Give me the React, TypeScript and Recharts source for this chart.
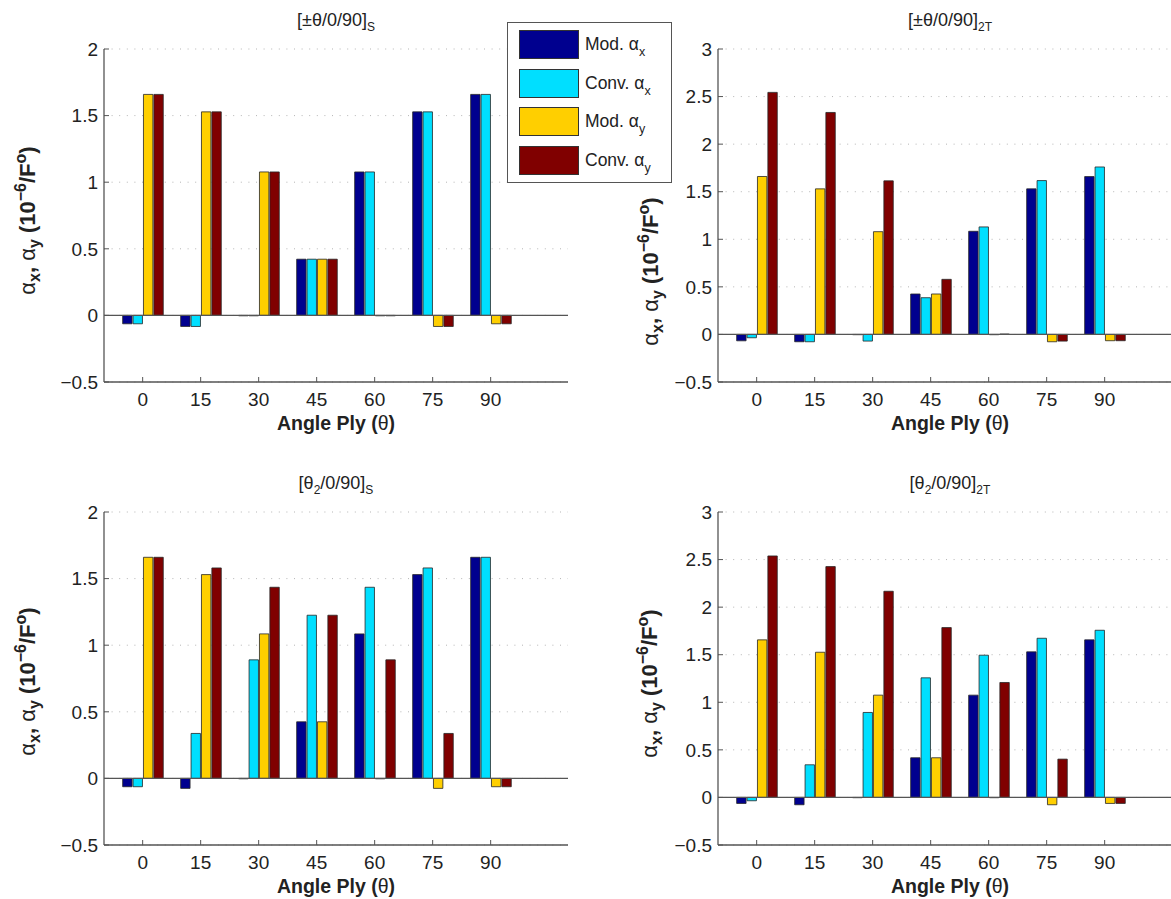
import React from 'react'
import { BarChart, Bar, XAxis, YAxis, CartesianGrid, ReferenceLine, Legend, Customized } from 'recharts'

const FONT = '"Liberation Sans", Arial, Helvetica, sans-serif'

// ply angles (x categories)
const angles = [0, 15, 30, 45, 60, 75, 90]

// [±θ/0/90]S
const symSModX = [-0.063, -0.083, -0.003, 0.422, 1.077, 1.528, 1.659]
const symSConvX = [-0.063, -0.083, -0.003, 0.422, 1.077, 1.528, 1.659]
const symSModY = [1.659, 1.528, 1.077, 0.422, -0.003, -0.083, -0.063]
const symSConvY = [1.659, 1.528, 1.077, 0.422, -0.003, -0.083, -0.063]

// [±θ/0/90]2T
const sym2TModX = [-0.067, -0.077, -0.003, 0.425, 1.084, 1.53, 1.659]
const sym2TConvX = [-0.035, -0.077, -0.07, 0.386, 1.13, 1.617, 1.76]
const sym2TModY = [1.66, 1.53, 1.08, 0.425, -0.003, -0.077, -0.066]
const sym2TConvY = [2.544, 2.333, 1.614, 0.579, 0.004, -0.07, -0.066]

// [θ2/0/90]S
const pairSModX = [-0.0625, -0.075, -0.003, 0.425, 1.085, 1.53, 1.66]
const pairSConvX = [-0.0625, 0.3375, 0.89, 1.225, 1.435, 1.58, 1.66]
const pairSModY = [1.66, 1.53, 1.085, 0.425, -0.003, -0.075, -0.0625]
const pairSConvY = [1.66, 1.58, 1.435, 1.225, 0.89, 0.3375, -0.0625]

// [θ2/0/90]2T
const pair2TModX = [-0.063, -0.077, -0.003, 0.417, 1.075, 1.53, 1.656]
const pair2TConvX = [-0.035, 0.343, 0.893, 1.257, 1.495, 1.673, 1.757]
const pair2TModY = [1.656, 1.526, 1.075, 0.417, -0.003, -0.077, -0.063]
const pair2TConvY = [2.538, 2.426, 2.167, 1.785, 1.208, 0.4025, -0.063]

const yTicksS = [-0.5, 0, 0.5, 1, 1.5, 2]
const yTicks2T = [-0.5, 0, 0.5, 1, 1.5, 2, 2.5, 3]

const seriesKeys = ['modX', 'convX', 'modY', 'convY']
const seriesNames = ['Mod.', 'Conv.', 'Mod.', 'Conv.']
const seriesSubs = ['x', 'x', 'y', 'y']
const seriesColors = ['#00008F', '#00DFFF', '#FFCF00', '#800000']

type Row = { angle: number; modX: number; convX: number; modY: number; convY: number }

function buildRows(modX: number[], convX: number[], modY: number[], convY: number[]): Row[] {
  return angles.map((a, i) => ({ angle: a, modX: modX[i], convX: convX[i], modY: modY[i], convY: convY[i] }))
}

const fmtTick = (v: number) => (v < 0 ? '\u2212' + Math.abs(v) : String(v))

function LegendBox() {
  return (
    <div
      style={{
        position: 'relative',
        boxSizing: 'border-box',
        width: 165,
        height: 161,
        border: '1.3px solid #555',
        background: '#fff',
        fontFamily: FONT,
        color: '#222',
      }}
    >
      {seriesKeys.map((k, i) => (
        <div key={k} style={{ position: 'absolute', left: 11, top: 7 + i * 38.5, height: 29, display: 'flex', alignItems: 'center' }}>
          <div style={{ width: 60, height: 29, boxSizing: 'border-box', background: seriesColors[i], border: '1px solid #333' }} />
          <span style={{ marginLeft: 6, fontSize: 17.5, whiteSpace: 'nowrap' }}>
            {seriesNames[i]} α
            <span style={{ fontSize: 12.5, position: 'relative', top: 6 }}>{seriesSubs[i]}</span>
          </span>
        </div>
      ))}
    </div>
  )
}

// y label is placed relative to the axis line: dx from the axis, dy from the plot middle
function makeYLabel(dx: number, dy: number) {
  return function YLabel(props: any) {
    const vb = props.viewBox
    const cx = vb.x + vb.width - dx
    const cy = vb.y + vb.height / 2 + dy
    return (
      <text x={cx} y={cy} transform={`rotate(-90 ${cx} ${cy})`} textAnchor="middle" fill="#222" fontFamily={FONT} fontSize={22} fontWeight="bold">
        <tspan fontWeight="normal">α</tspan>
        <tspan dy={5} fontSize={16}>x</tspan>
        <tspan dy={-5}>, </tspan>
        <tspan fontWeight="normal">α</tspan>
        <tspan dy={5} fontSize={16}>y</tspan>
        <tspan dy={-5}> (10</tspan>
        <tspan dy={-9} fontSize={16}>{'\u22126'}</tspan>
        <tspan dy={9}>/F</tspan>
        <tspan dy={-9} fontSize={16}>o</tspan>
        <tspan dy={9}>)</tspan>
      </text>
    )
  }
}

function XLabel(props: any) {
  const vb = props.viewBox
  return (
    <text x={vb.x + vb.width / 2} y={vb.y + 48} textAnchor="middle" fill="#222" fontFamily={FONT} fontSize={19.5} fontWeight="bold">
      Angle Ply (<tspan fontWeight="normal">θ</tspan>)
    </text>
  )
}

function Title({ lead, sub, after, tail }: { lead: string; sub?: string; after?: string; tail: string }) {
  return (
    <text x={336} y={26} textAnchor="middle" fill="#222" fontFamily={FONT} fontSize={18}>
      {lead}
      {sub && <tspan dy={5} fontSize={12}>{sub}</tspan>}
      {after && <tspan dy={sub ? -5 : 0}>{after}</tspan>}
      <tspan dy={5} fontSize={12}>{tail}</tspan>
    </text>
  )
}

type PanelProps = {
  rows: Row[]
  yTicks: number[]
  title: React.ReactElement
  labelDx: number
  labelDy: number
  legend?: boolean
}

function Panel({ rows, yTicks, title, labelDx, labelDy, legend }: PanelProps) {
  return (
    <BarChart width={580} height={440} data={rows} margin={{ top: 49, right: 12, bottom: 8, left: 24 }} barSize={9.4} barGap={1}>
      <CartesianGrid vertical={false} stroke="#b5b5b5" strokeDasharray="1 6.6" />
      <XAxis
        type="number"
        dataKey="angle"
        domain={[-10, 110]}
        ticks={angles}
        interval={0}
        height={50}
        axisLine={{ stroke: '#555', strokeWidth: 1.3 }}
        tickLine={{ stroke: '#555' }}
        tickSize={-5}
        tickMargin={16}
        tick={{ fill: '#222', fontSize: 19, fontFamily: FONT }}
        label={XLabel}
      />
      <YAxis
        type="number"
        domain={[yTicks[0], yTicks[yTicks.length - 1]]}
        ticks={yTicks}
        interval={0}
        width={80}
        axisLine={{ stroke: '#555', strokeWidth: 1.3 }}
        tickLine={{ stroke: '#555' }}
        tickSize={-5}
        tickMargin={11}
        tick={{ fill: '#222', fontSize: 19, fontFamily: FONT }}
        tickFormatter={fmtTick}
        label={makeYLabel(labelDx, labelDy)}
      />
      {seriesKeys.map((k, i) => (
        <Bar
          key={k}
          dataKey={k}
          name={seriesNames[i] + ' α' + seriesSubs[i]}
          fill={seriesColors[i]}
          stroke="#262626"
          strokeWidth={0.8}
          isAnimationActive={false}
        />
      ))}
      <ReferenceLine y={0} stroke="#555" strokeWidth={1.3} />
      <Customized component={title} />
      {legend && (
        <Legend
          layout="horizontal"
          align="center"
          verticalAlign="middle"
          content={() => <LegendBox />}
          wrapperStyle={{ left: 507, top: 22, width: 165, height: 161 }}
        />
      )}
    </BarChart>
  )
}

export default function App() {
  return (
    <div style={{ position: 'absolute', left: 0, top: 0, width: 1171, height: 899, overflow: 'hidden', background: '#fff', fontFamily: FONT }}>
      <div style={{ position: 'absolute', left: 0, top: 0, zIndex: 2 }}>
        <Panel
          rows={buildRows(symSModX, symSConvX, symSModY, symSConvY)}
          yTicks={yTicksS}
          title={<Title lead="[±θ/0/90]" tail="S" />}
          labelDx={69}
          labelDy={5}
          legend
        />
      </div>
      <div style={{ position: 'absolute', left: 614, top: 0 }}>
        <Panel
          rows={buildRows(sym2TModX, sym2TConvX, sym2TModY, sym2TConvY)}
          yTicks={yTicks2T}
          title={<Title lead="[±θ/0/90]" tail="2T" />}
          labelDx={60}
          labelDy={56}
        />
      </div>
      <div style={{ position: 'absolute', left: 0, top: 462.5 }}>
        <Panel
          rows={buildRows(pairSModX, pairSConvX, pairSModY, pairSConvY)}
          yTicks={yTicksS}
          title={<Title lead="[θ" sub="2" after="/0/90]" tail="S" />}
          labelDx={69}
          labelDy={3}
        />
      </div>
      <div style={{ position: 'absolute', left: 614, top: 462.5 }}>
        <Panel
          rows={buildRows(pair2TModX, pair2TConvX, pair2TModY, pair2TConvY)}
          yTicks={yTicks2T}
          title={<Title lead="[θ" sub="2" after="/0/90]" tail="2T" />}
          labelDx={61}
          labelDy={5}
        />
      </div>
    </div>
  )
}
